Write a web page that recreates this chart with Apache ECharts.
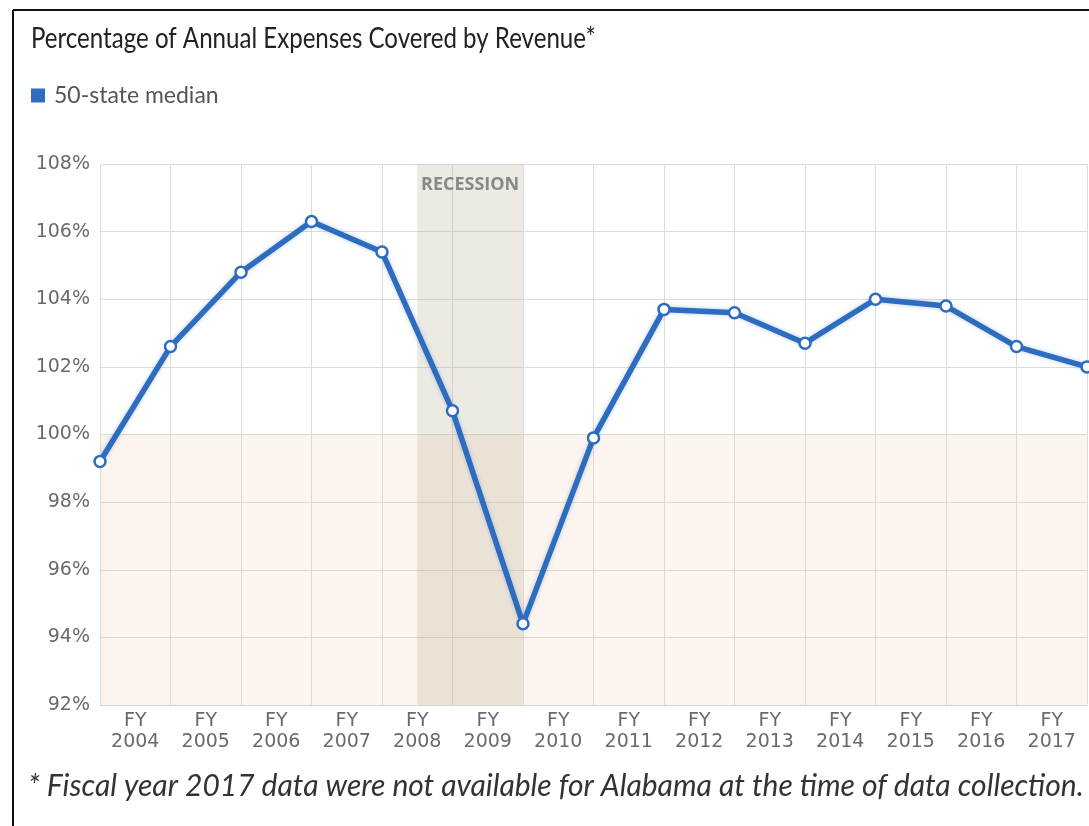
<!DOCTYPE html>
<html>
<head>
<meta charset="utf-8">
<script src="https://cdn.jsdelivr.net/npm/echarts@6/dist/echarts.min.js"></script>
<style>
  html, body { margin: 0; padding: 0; background: #fff; }
  #chart { width: 1089px; height: 826px; }
</style>
</head>
<body>
<div id="chart"></div>
<script>
// fiscal years shown under the axis (labels sit between gridlines)
var years = ['2004', '2005', '2006', '2007', '2008', '2009', '2010',
  '2011', '2012', '2013', '2014', '2015', '2016', '2017'];
// 50-state median, one point on each gridline (15 points)
var median = [99.2, 102.6, 104.8, 106.3, 105.4, 100.7, 94.4, 99.9,
  103.7, 103.6, 102.7, 104.0, 103.8, 102.6, 102.0];
// recession band, in gridline positions
var recession = [4.5, 6];
var shortfallLine = 100;
var yMin = 92, yMax = 108, yStep = 2;

var chartDom = document.getElementById('chart');
var myChart = echarts.init(chartDom);
var option;

var blue = '#2d6cbe';

option = {
  animation: false,
  legend: {
    left: 26,
    top: 79,
    icon: 'rect',
    itemWidth: 14,
    itemHeight: 14,
    itemGap: 6,
    itemStyle: { color: blue, borderWidth: 0 },
    textStyle: {
      fontFamily: 'Lato',
      fontSize: 23,
      color: '#555',
      padding: [0, 0, 0, 4]
    },
    data: ['50-state median']
  },
  grid: {
    left: 100,
    top: 164,
    right: 2,
    bottom: 121
  },
  xAxis: [
    {
      type: 'category',
      boundaryGap: true,
      data: years.map(function (y) { return 'FY\n' + y; }),
      axisTick: { show: false },
      axisLine: { lineStyle: { color: '#d4d4d4' } },
      axisLabel: {
        fontFamily: 'DejaVu Sans',
        fontSize: 19,
        color: '#6a6a6a',
        lineHeight: 21,
        margin: 6
      },
      splitLine: { show: true, lineStyle: { color: '#dcdcdc' } }
    },
    {
      type: 'value',
      min: 0,
      max: median.length - 1,
      show: false
    }
  ],
  yAxis: {
    type: 'value',
    min: yMin,
    max: yMax,
    interval: yStep,
    axisLine: { show: false },
    axisTick: { show: false },
    axisLabel: {
      formatter: '{value}%',
      fontFamily: 'DejaVu Sans',
      fontSize: 19,
      color: '#6a6a6a',
      margin: 10
    },
    splitLine: { lineStyle: { color: '#dcdcdc' } }
  },
  series: [
    {
      name: '50-state median',
      type: 'line',
      xAxisIndex: 1,
      data: median.map(function (v, i) { return [i, v]; }),
      color: blue,
      lineStyle: {
        width: 5.5,
        color: blue,
        shadowColor: 'rgba(45,108,190,0.35)',
        shadowBlur: 4
      },
      symbol: 'circle',
      symbolSize: 11,
      itemStyle: {
        color: '#fff',
        borderColor: blue,
        borderWidth: 2.5
      },
      z: 5,
      markArea: {
        silent: true,
        data: [
          [
            { yAxis: yMin, itemStyle: { color: 'rgba(240,195,160,0.18)' } },
            { yAxis: shortfallLine }
          ],
          [
            {
              xAxis: recession[0],
              itemStyle: { color: 'rgba(185,170,145,0.25)' },
              label: {
                show: true,
                position: 'insideTop',
                distance: 12,
                formatter: 'RECESSION',
                fontFamily: 'Open Sans',
                fontWeight: 'bold',
                fontSize: 18,
                color: '#888'
              }
            },
            { xAxis: recession[1] }
          ]
        ]
      }
    }
  ],
  graphic: [
    {
      // title, narrowed a little to match the original's proportions
      type: 'text',
      x: 31,
      y: 25,
      scaleX: 0.86,
      style: {
        text: 'Percentage of Annual Expenses Covered by Revenue*',
        font: '28px Lato',
        fill: '#222',
        textVerticalAlign: 'top'
      }
    },
    {
      type: 'text',
      left: 28,
      top: 771,
      style: {
        text: '* Fiscal year 2017 data were not available for Alabama at the time of data collection.',
        font: 'italic 30px Lato',
        fill: '#333'
      }
    },
    {
      type: 'line',
      shape: { x1: 13, y1: 10, x2: 1089, y2: 10 },
      style: { stroke: '#111', lineWidth: 2 }
    },
    {
      type: 'line',
      shape: { x1: 13, y1: 10, x2: 13, y2: 826 },
      style: { stroke: '#111', lineWidth: 2 }
    }
  ]
};

option && myChart.setOption(option);
</script>
</body>
</html>
